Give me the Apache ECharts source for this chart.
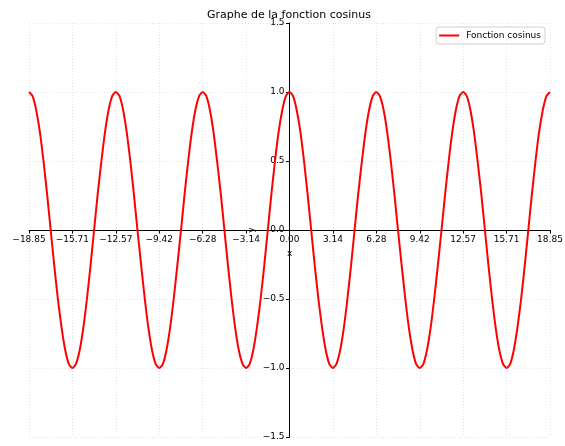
<!DOCTYPE html>
<html><head><meta charset="utf-8">
<script src="https://cdn.jsdelivr.net/npm/echarts@6/dist/echarts.min.js"></script>
<style>html,body{margin:0;padding:0;background:#fff}#c{width:565px;height:446px}</style>
</head><body><div id="c"></div>
<script>
const xValues = [
  -18.85,-18.59,-18.33,-18.06,-17.80,-17.54,-17.28,-17.02,-16.76,-16.49,-16.23,-15.97,
  -15.71,-15.45,-15.18,-14.92,-14.66,-14.40,-14.14,-13.88,-13.61,-13.35,-13.09,-12.83,
  -12.57,-12.30,-12.04,-11.78,-11.52,-11.26,-11.00,-10.73,-10.47,-10.21,-9.95,-9.69,
  -9.42,-9.16,-8.90,-8.64,-8.38,-8.12,-7.85,-7.59,-7.33,-7.07,-6.81,-6.54,
  -6.28,-6.02,-5.76,-5.50,-5.24,-4.97,-4.71,-4.45,-4.19,-3.93,-3.67,-3.40,
  -3.14,-2.88,-2.62,-2.36,-2.09,-1.83,-1.57,-1.31,-1.05,-0.79,-0.52,-0.26,
  0.00,0.26,0.52,0.79,1.05,1.31,1.57,1.83,2.09,2.36,2.62,2.88,
  3.14,3.40,3.67,3.93,4.19,4.45,4.71,4.97,5.24,5.50,5.76,6.02,
  6.28,6.54,6.81,7.07,7.33,7.59,7.85,8.12,8.38,8.64,8.90,9.16,
  9.42,9.69,9.95,10.21,10.47,10.73,11.00,11.26,11.52,11.78,12.04,12.30,
  12.57,12.83,13.09,13.35,13.61,13.88,14.14,14.40,14.66,14.92,15.18,15.45,
  15.71,15.97,16.23,16.49,16.76,17.02,17.28,17.54,17.80,18.06,18.33,18.59,
  18.85];
const cosValues = [
  1,0.97,0.87,0.71,0.5,0.26,0,-0.26,-0.5,-0.71,-0.87,-0.97,-1,-0.97,-0.87,-0.71,-0.5,-0.26,0,0.26,0.5,0.71,0.87,0.97,
  1,0.97,0.87,0.71,0.5,0.26,0,-0.26,-0.5,-0.71,-0.87,-0.97,-1,-0.97,-0.87,-0.71,-0.5,-0.26,0,0.26,0.5,0.71,0.87,0.97,
  1,0.97,0.87,0.71,0.5,0.26,0,-0.26,-0.5,-0.71,-0.87,-0.97,-1,-0.97,-0.87,-0.71,-0.5,-0.26,0,0.26,0.5,0.71,0.87,0.97,
  1,0.97,0.87,0.71,0.5,0.26,0,-0.26,-0.5,-0.71,-0.87,-0.97,-1,-0.97,-0.87,-0.71,-0.5,-0.26,0,0.26,0.5,0.71,0.87,0.97,
  1,0.97,0.87,0.71,0.5,0.26,0,-0.26,-0.5,-0.71,-0.87,-0.97,-1,-0.97,-0.87,-0.71,-0.5,-0.26,0,0.26,0.5,0.71,0.87,0.97,
  1,0.97,0.87,0.71,0.5,0.26,0,-0.26,-0.5,-0.71,-0.87,-0.97,-1,-0.97,-0.87,-0.71,-0.5,-0.26,0,0.26,0.5,0.71,0.87,0.97,
  1];
const xTickLabels = ['\u221218.85','\u221215.71','\u221212.57','\u22129.42','\u22126.28','\u22123.14','0.00','3.14','6.28','9.42','12.57','15.71','18.85'];
const yTickLabels = ['\u22121.5','\u22121.0','\u22120.5','0.0','0.5','1.0','1.5'];
const titleText = 'Graphe de la fonction cosinus';
const seriesName = 'Fonction cosinus';

const PI = Math.PI;
const font = 'DejaVu Sans';
const gLeft = 29, gRight = 15, gTop = 23, gBottom = 9;
const gW = 565 - gLeft - gRight, gH = 446 - gTop - gBottom;
const chart = echarts.init(document.getElementById('c'), null, {renderer:'canvas'});
chart.setOption({
  animation:false,
  backgroundColor:'#fff',
  textStyle:{fontFamily:font},
  title:{text:titleText,left:202,top:5,
    textStyle:{fontFamily:font,fontSize:11,fontWeight:'normal',color:'#000'}},
  legend:{data:[{name:seriesName,icon:'path://M0,0L20,0L20,2L0,2Z'}],right:20,top:27,itemWidth:20,itemHeight:2,
    itemGap:6,padding:[4,4,4,3],borderColor:'#d0d0d0',borderWidth:1,borderRadius:3,backgroundColor:'rgba(255,255,255,0.8)',
    textStyle:{fontFamily:font,fontSize:9,color:'#000',padding:[0,0,0,2]}},
  grid:{left:gLeft,right:gRight,top:gTop,bottom:gBottom,containLabel:false,outerBoundsMode:'none'},
  xAxis:{type:'value',min:-6*PI,max:6*PI,interval:PI,position:'bottom',offset:-gH/2,
    axisLine:{onZero:false,lineStyle:{color:'#000',width:1}},
    axisTick:{length:3.5,lineStyle:{color:'#000'}},
    axisLabel:{fontFamily:font,fontSize:9,color:'#000',margin:5,showMinLabel:true,showMaxLabel:true,
      formatter:v=>xTickLabels[Math.round(v/PI)+6]},
    splitLine:{show:true,lineStyle:{color:'#dddddd',type:[1,2],width:0.8}}},
  yAxis:{type:'value',min:-1.5,max:1.5,interval:0.5,position:'left',offset:-gW/2,
    axisLine:{onZero:false,lineStyle:{color:'#000',width:1}},
    axisTick:{length:3.5,lineStyle:{color:'#000'}},
    axisLabel:{fontFamily:font,fontSize:9,color:'#000',margin:5,showMinLabel:true,showMaxLabel:true,
      formatter:v=>yTickLabels[Math.round(v*2)+3]},
    splitLine:{show:true,lineStyle:{color:'#dddddd',type:[1,2],width:0.8}}},
  graphic:[
    {type:'text',left:287,top:249,style:{text:'x',font:'9px DejaVu Sans',fill:'#000'}},
    {type:'text',x:252,y:230,rotation:PI/2,style:{text:'y',font:'9px DejaVu Sans',fill:'#000',align:'center',verticalAlign:'middle'}}
  ],
  series:[{name:seriesName,type:'line',data:xValues.map((x,i)=>[x,cosValues[i]]),
    smooth:0.2,showSymbol:false,lineStyle:{color:'#ff0000',width:2},itemStyle:{color:'#ff0000'},clip:true}]
});
</script></body></html>
